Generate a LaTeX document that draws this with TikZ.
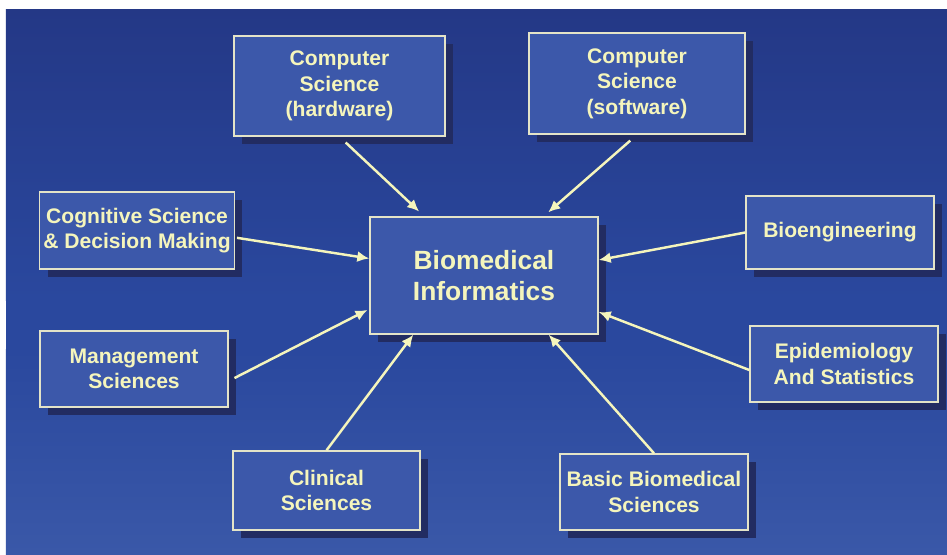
\documentclass[tikz,border=0pt]{standalone}
\usepackage{fontspec}
\setmainfont{Liberation Sans}
\usetikzlibrary{shadows,arrows.meta}
\definecolor{bgtop}{RGB}{36,56,134}
\definecolor{bgmid}{RGB}{42,72,158}
\definecolor{bgbot}{RGB}{58,88,168}
\definecolor{boxfill}{RGB}{60,88,170}
\definecolor{boxline}{RGB}{228,228,200}
\definecolor{boxshade}{RGB}{34,44,98}
\definecolor{textyellow}{RGB}{245,245,188}

\begin{document}
\begin{tikzpicture}
    % background with white margin on the left and top
    \fill[white] (0,0) rectangle (18.94,-11.08);
    \shade[top color=bgtop, bottom color=bgmid] (0.12,-0.18) rectangle (18.94,-6);
    \fill[bgmid] (0.12,-5.99) rectangle (18.94,-7);
    \shade[top color=bgmid, bottom color=bgbot] (0.12,-6.99) rectangle (18.94,-11.08);

    \tikzstyle{every node}=[rectangle, fill=boxfill, draw=boxline, line width=0.8pt, inner sep=2pt, align=center, font=\bfseries\fontsize{12}{14.5}\selectfont, text=textyellow, drop shadow={shadow xshift=0.16cm, shadow yshift=-0.16cm, fill=boxshade, opacity=1}]
    \tikzstyle{edge}=[draw=textyellow, line width=1.4pt, -{Latex[length=2.4mm,width=2.2mm]}]

    \node[minimum width=4.56cm, minimum height=2.34cm, font=\bfseries\fontsize{15}{18}\selectfont] (bmi) at (9.68,-5.51) {Biomedical\\Informatics};
    \node[minimum width=4.22cm, minimum height=2.00cm] (hw) at (6.79,-1.72) {Computer\\Science\\(hardware)};
    \node[minimum width=4.32cm, minimum height=2.02cm] (sw) at (12.74,-1.67) {Computer\\Science\\(software)};
    \node[minimum width=3.88cm, minimum height=1.54cm] (cog) at (2.74,-4.61) {Cognitive Science\\\& Decision Making};
    \node[minimum width=3.76cm, minimum height=1.46cm] (bioeng) at (16.80,-4.65) {Bioengineering};
    \node[minimum width=3.76cm, minimum height=1.52cm] (mgmt) at (2.68,-7.38) {Management\\Sciences};
    \node[minimum width=3.76cm, minimum height=1.52cm] (epi) at (16.88,-7.28) {Epidemiology\\And Statistics};
    \node[minimum width=3.74cm, minimum height=1.58cm] (clin) at (6.53,-9.81) {Clinical\\Sciences};
    \node[minimum width=3.76cm, minimum height=1.52cm] (basic) at (13.08,-9.84) {Basic Biomedical\\Sciences};

    \draw[edge, shorten <=0.17cm, shorten >=0.14cm] (hw.south) -- ([xshift=1.1cm]bmi.north west);
    \draw[edge, shorten <=0.18cm, shorten >=0.12cm] (sw.south) -- ([xshift=-1.1cm]bmi.north east);
    \draw[edge, shorten <=0.04cm] ([yshift=-0.14cm]cog.east) -- ([yshift=0.34cm]bmi.west);
    \draw[edge] (bioeng.west) -- ([yshift=0.31cm]bmi.east);
    \draw[edge, shorten <=0.13cm, shorten >=0.04cm] ([yshift=-0.24cm]mgmt.east) -- ([yshift=-0.67cm]bmi.west);
    \draw[edge] ([yshift=-0.12cm]epi.west) -- ([yshift=-0.73cm]bmi.east);
    \draw[edge] (clin.north) -- ([xshift=0.88cm]bmi.south west);
    \draw[edge] (basic.north) -- ([xshift=-1.0cm]bmi.south east);
\end{tikzpicture}
\end{document}
